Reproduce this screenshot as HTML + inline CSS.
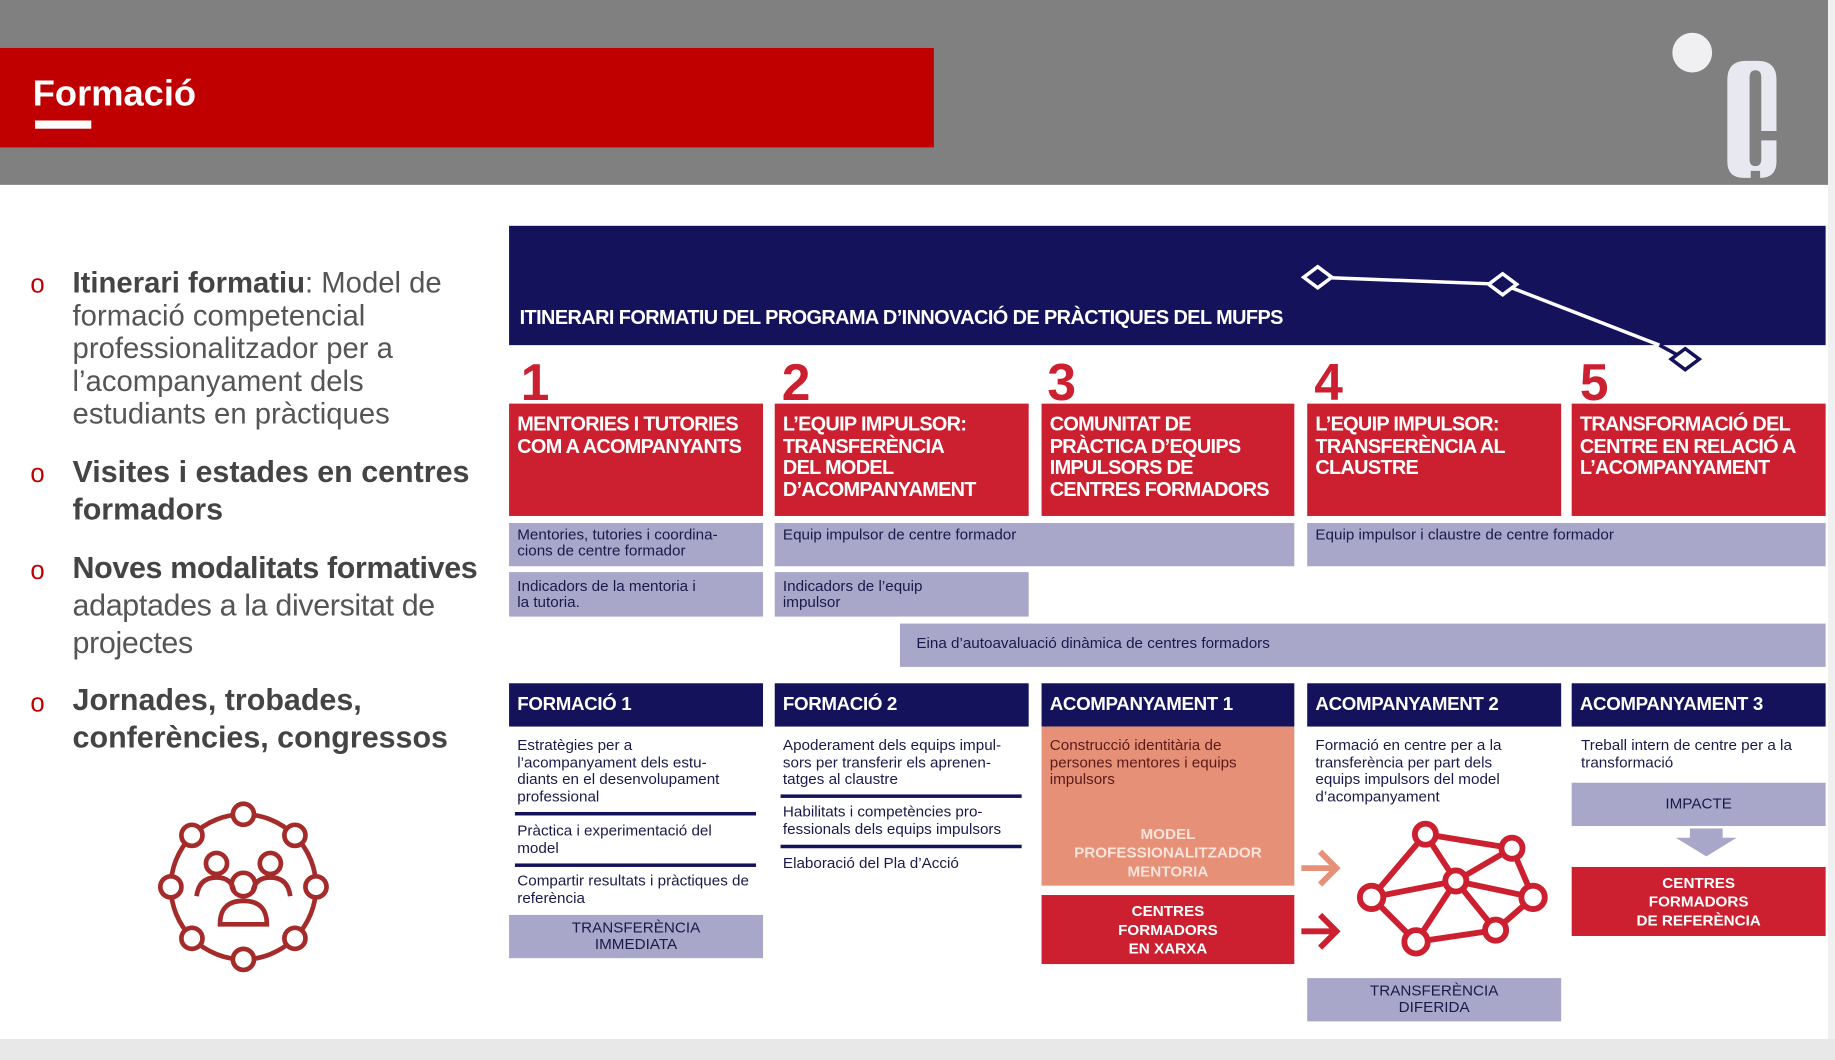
<!DOCTYPE html>
<html><head><meta charset="utf-8"><style>
html,body{margin:0;padding:0;width:1835px;height:1060px;overflow:hidden;background:#fff}
#w{position:absolute;left:0;top:0;width:1568px;height:906px;transform:scale(1.17028,1.16998);transform-origin:0 0;font-family:"Liberation Sans",sans-serif;background:#fff}
.a{position:absolute;box-sizing:border-box}
.red{background:#cc1f2f;color:#fff;font-weight:bold;font-size:17px;line-height:18.5px;padding:9px 7px;letter-spacing:-0.6px}
.lav{background:#a8a6c9;color:#1a1a4a;font-size:13px;line-height:14px;padding:3px 7px}
.nav{background:#15125c;color:#fff;font-weight:bold;font-size:16px;line-height:37px;padding:0 7px;letter-spacing:-0.3px}
.num{color:#cc1f2f;font-weight:bold;font-size:44px;line-height:40px}
.t{color:#1a1a4a;font-size:13px;line-height:14.5px}
.bl{font-size:25px;color:#555;line-height:28px}
.bl b{color:#444}
.o{position:absolute;left:26px;color:#c00000;font-size:22px}
.sep{position:absolute;height:3px;background:#15125c}
</style></head><body><div id="w">
<div class="a" style="left:0;top:0;width:1568px;height:158px;background:#808080"></div>
<div class="a" style="left:1562px;top:0;width:6px;height:906px;background:#f0f0f0"></div>
<div class="a" style="left:0;top:888px;width:1568px;height:18px;background:#e8e8e8"></div>
<div class="a" style="left:0;top:41px;width:798px;height:85px;background:#c00000"></div>
<div class="a" style="left:28px;top:62px;color:#fff;font-weight:bold;font-size:31px">Formació</div>
<div class="a" style="left:30px;top:103px;width:48px;height:7px;background:#fff"></div>
<svg class="a" style="left:1420px;top:20px" width="120" height="140"><circle cx="26" cy="25" r="17" fill="#f0f0f2"/>
<path d="M56 48 Q56 32 72 32 L82 32 Q98 32 98 48 L98 92 L85 92 L85 46 Q85 40 80 40 Q75 40 75 46 L75 116 Q75 122 80 122 Q85 122 85 116 L85 100 L98 100 L98 118 Q98 132 84 132 L84 126 L76 126 L76 132 L70 132 Q56 132 56 118 Z" fill="#e8e8f0"/></svg>

<span class="o" style="top:230px">o</span>
<div class="a bl" style="left:62px;top:228px;width:340px"><b>Itinerari formatiu</b>: Model de formació competencial professionalitzador per a l’acompanyament dels estudiants en pràctiques</div>
<span class="o" style="top:392px">o</span>
<div class="a bl" style="left:62px;top:387px;width:345px;font-size:26px;line-height:32px"><b>Visites i estades en centres formadors</b></div>
<span class="o" style="top:475px">o</span>
<div class="a bl" style="left:62px;top:469px;width:370px;font-size:26px;line-height:32px;letter-spacing:-0.3px"><b>Noves modalitats formatives</b> adaptades a la diversitat de projectes</div>
<span class="o" style="top:588px">o</span>
<div class="a bl" style="left:62px;top:582px;width:360px;font-size:26px;line-height:32px"><b>Jornades, trobades, conferències, congressos</b></div>

<svg class="a" style="left:130px;top:678px" width="160" height="160" fill="none" stroke="#a52a2a" stroke-width="4">
<circle cx="78" cy="80" r="62"/>
<g fill="#fff"><circle cx="78" cy="18" r="9"/><circle cx="122" cy="36" r="9"/><circle cx="140" cy="80" r="9"/><circle cx="122" cy="124" r="9"/><circle cx="78" cy="142" r="9"/><circle cx="34" cy="124" r="9"/><circle cx="16" cy="80" r="9"/><circle cx="34" cy="36" r="9"/></g>
<circle cx="55" cy="60" r="9"/><circle cx="101" cy="60" r="9"/><circle cx="78" cy="78" r="10"/>
<path d="M38 88 Q40 72 55 72 Q68 72 70 84"/><path d="M86 84 Q88 72 101 72 Q116 72 118 88"/><path d="M58 112 Q58 92 78 92 Q98 92 98 112 Z"/>
</svg>

<div class="a" style="left:435px;top:193px;width:1125px;height:102px;background:#15125c"></div>
<div class="a" style="left:444px;top:262px;color:#fff;font-weight:bold;font-size:17px;letter-spacing:-0.5px">ITINERARI FORMATIU DEL PROGRAMA D’INNOVACIÓ DE PRÀCTIQUES DEL MUFPS</div>
<svg class="a" style="left:1100px;top:220px" width="370" height="110"><polyline points="26,17 184,23 318,75" fill="none" stroke="#fff" stroke-width="3"/><line x1="318" y1="75" x2="340" y2="87" stroke="#15125c" stroke-width="3"/><g fill="#15125c" stroke="#fff" stroke-width="3"><path d="M14 17 L26 8 L38 17 L26 26Z"/><path d="M172 23 L184 14 L196 23 L184 32Z"/></g><path d="M328 87 L340 78 L352 87 L340 96Z" fill="#fff" stroke="#15125c" stroke-width="3"/></svg>

<div class="a num" style="left:445px;top:308px">1</div>
<div class="a num" style="left:668px;top:308px">2</div>
<div class="a num" style="left:895px;top:308px">3</div>
<div class="a num" style="left:1123px;top:308px">4</div>
<div class="a num" style="left:1350px;top:308px">5</div>

<div class="a red" style="left:435px;top:345px;width:217px;height:96px">MENTORIES I TUTORIES COM A ACOMPANYANTS</div>
<div class="a red" style="left:662px;top:345px;width:217px;height:96px;padding-right:40px">L’EQUIP IMPULSOR: TRANSFERÈNCIA DEL MODEL D’ACOMPANYAMENT</div>
<div class="a red" style="left:890px;top:345px;width:216px;height:96px;padding-right:20px">COMUNITAT DE PRÀCTICA D’EQUIPS IMPULSORS DE CENTRES FORMADORS</div>
<div class="a red" style="left:1117px;top:345px;width:217px;height:96px;padding-right:30px">L’EQUIP IMPULSOR: TRANSFERÈNCIA AL CLAUSTRE</div>
<div class="a red" style="left:1343px;top:345px;width:217px;height:96px">TRANSFORMACIÓ DEL CENTRE EN RELACIÓ A L’ACOMPANYAMENT</div>

<div class="a lav" style="left:435px;top:447px;width:217px;height:37px;padding-right:20px">Mentories, tutories i coordina-cions de centre formador</div>
<div class="a lav" style="left:662px;top:447px;width:444px;height:37px">Equip impulsor de centre formador</div>
<div class="a lav" style="left:1117px;top:447px;width:443px;height:37px">Equip impulsor i claustre de centre formador</div>
<div class="a lav" style="left:435px;top:489px;width:217px;height:38px;padding:5px 50px 0 7px">Indicadors de la mentoria i la tutoria.</div>
<div class="a lav" style="left:662px;top:489px;width:217px;height:38px;padding:5px 70px 0 7px">Indicadors de l’equip impulsor</div>
<div class="a lav" style="left:769px;top:533px;width:791px;height:37px;padding:10px 14px">Eina d’autoavaluació dinàmica de centres formadors</div>

<div class="a nav" style="left:435px;top:584px;width:217px;height:37px">FORMACIÓ 1</div>
<div class="a nav" style="left:662px;top:584px;width:217px;height:37px">FORMACIÓ 2</div>
<div class="a nav" style="left:890px;top:584px;width:216px;height:37px">ACOMPANYAMENT 1</div>
<div class="a nav" style="left:1117px;top:584px;width:217px;height:37px">ACOMPANYAMENT 2</div>
<div class="a nav" style="left:1343px;top:584px;width:217px;height:37px">ACOMPANYAMENT 3</div>

<div class="a t" style="left:442px;top:630px;width:190px">Estratègies per a l’acompanyament dels estu-diants en el desenvolupament professional</div>
<div class="sep" style="left:440px;top:694px;width:206px"></div>
<div class="a t" style="left:442px;top:703px;width:190px">Pràctica i experimentació del model</div>
<div class="sep" style="left:440px;top:738px;width:206px"></div>
<div class="a t" style="left:442px;top:746px;width:205px">Compartir resultats i pràctiques de referència</div>
<div class="a lav" style="left:435px;top:782px;width:217px;height:37px;text-align:center;font-size:13px;padding:4px 40px 0">TRANSFERÈNCIA IMMEDIATA</div>

<div class="a t" style="left:669px;top:630px;width:200px">Apoderament dels equips impul-sors per transferir els aprenen-tatges al claustre</div>
<div class="sep" style="left:667px;top:679px;width:206px"></div>
<div class="a t" style="left:669px;top:687px;width:205px">Habilitats i competències pro-fessionals dels equips impulsors</div>
<div class="sep" style="left:667px;top:722px;width:206px"></div>
<div class="a t" style="left:669px;top:731px;width:205px">Elaboració del Pla d’Acció</div>

<div class="a" style="left:890px;top:621px;width:216px;height:136px;background:#e69078"></div>
<div class="a t" style="left:897px;top:630px;width:195px;color:#5a1a1a">Construcció identitària de persones mentores i equips impulsors</div>
<div class="a" style="left:890px;top:705px;width:216px;text-align:center;color:#fbe3da;font-weight:bold;font-size:13px;line-height:16px">MODEL<br>PROFESSIONALITZADOR<br>MENTORIA</div>
<div class="a" style="left:890px;top:765px;width:216px;height:59px;background:#cc1f2f;color:#fff;text-align:center;font-weight:bold;font-size:13px;line-height:16px;padding-top:6px">CENTRES<br>FORMADORS<br>EN XARXA</div>
<svg class="a" style="left:1106px;top:720px" width="50" height="110"><path d="M6 22 H34 M22 8 L36 22 L22 36" stroke="#e69078" stroke-width="5" fill="none"/><path d="M6 76 H34 M22 62 L36 76 L22 90" stroke="#cc1f2f" stroke-width="5" fill="none"/></svg>

<div class="a t" style="left:1124px;top:630px;width:185px">Formació en centre per a la transferència per part dels equips impulsors del model d’acompanyament</div>
<svg class="a" style="left:1150px;top:695px" width="180" height="130" fill="none" stroke="#cc1f2f" stroke-width="5">
<path d="M68 18 L22 72 L60 110 L128 100 L160 72 L142 30 Z M68 18 L94 58 L142 30 M22 72 L94 58 L128 100 M94 58 L60 110 M94 58 L160 72"/>
<g fill="#fff"><circle cx="68" cy="18" r="9"/><circle cx="142" cy="30" r="9"/><circle cx="22" cy="72" r="10"/><circle cx="94" cy="58" r="9"/><circle cx="160" cy="72" r="10"/><circle cx="60" cy="110" r="10"/><circle cx="128" cy="100" r="9"/></g></svg>
<div class="a lav" style="left:1117px;top:836px;width:217px;height:37px;text-align:center;font-size:13px;padding:4px 40px 0">TRANSFERÈNCIA DIFERIDA</div>

<div class="a t" style="left:1351px;top:630px;width:205px">Treball intern de centre per a la transformació</div>
<div class="a lav" style="left:1343px;top:669px;width:217px;height:37px;text-align:center;font-size:13px;padding-top:11px">IMPACTE</div>
<svg class="a" style="left:1430px;top:708px" width="56" height="26"><path d="M14 0 H42 V8 H54 L28 24 L2 8 H14Z" fill="#a8a6c9"/></svg>
<div class="a" style="left:1343px;top:741px;width:217px;height:59px;background:#cc1f2f;color:#fff;text-align:center;font-weight:bold;font-size:13px;line-height:16px;padding-top:6px">CENTRES<br>FORMADORS<br>DE REFERÈNCIA</div>
</div></body></html>
